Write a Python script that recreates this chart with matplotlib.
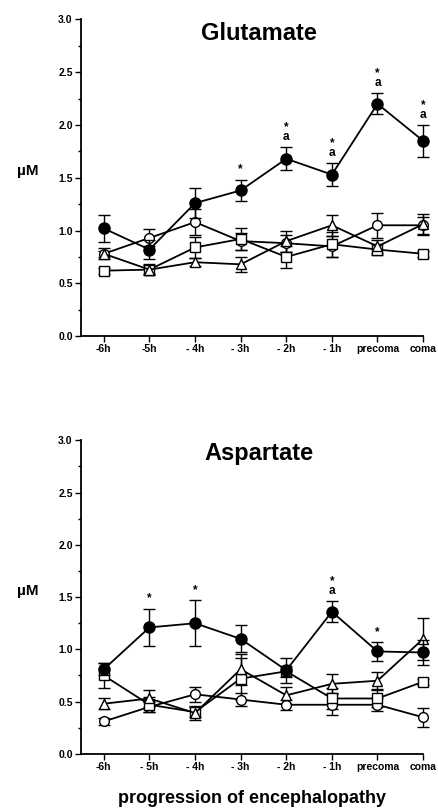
import matplotlib.pyplot as plt
from matplotlib.ticker import MultipleLocator

plt.rcParams['font.family'] = ['Liberation Sans', 'DejaVu Sans']
plt.rcParams['font.weight'] = 'bold'

stages_top = ['-6h', '-5h', '- 4h', '- 3h', '- 2h', '- 1h', 'precoma', 'coma']
stages_bot = ['-6h', '- 5h', '- 4h', '- 3h', '- 2h', '- 1h', 'precoma', 'coma']

# Glutamate (uM)
glu_filled = [1.02, 0.82, 1.26, 1.38, 1.68, 1.53, 2.20, 1.85]
glu_filled_err = [0.13, 0.09, 0.14, 0.10, 0.11, 0.11, 0.10, 0.15]
glu_circle = [0.78, 0.93, 1.08, 0.90, 0.88, 0.85, 1.05, 1.05]
glu_circle_err = [0.05, 0.08, 0.12, 0.08, 0.08, 0.10, 0.12, 0.08]
glu_square = [0.62, 0.63, 0.84, 0.92, 0.75, 0.87, 0.82, 0.78]
glu_square_err = [0.03, 0.05, 0.10, 0.10, 0.10, 0.12, 0.05, 0.03]
glu_tri = [0.78, 0.63, 0.70, 0.68, 0.90, 1.05, 0.85, 1.06]
glu_tri_err = [0.03, 0.04, 0.04, 0.07, 0.10, 0.10, 0.06, 0.10]
glu_marks = {3: '*', 4: '*\na', 5: '*\na', 6: '*\na', 7: '*\na'}

# Aspartate (uM)
asp_filled = [0.81, 1.21, 1.25, 1.10, 0.80, 1.36, 0.98, 0.97]
asp_filled_err = [0.06, 0.18, 0.22, 0.13, 0.12, 0.10, 0.09, 0.12]
asp_circle = [0.31, 0.45, 0.57, 0.52, 0.47, 0.47, 0.47, 0.35]
asp_circle_err = [0.03, 0.05, 0.07, 0.06, 0.05, 0.10, 0.06, 0.09]
asp_square = [0.75, 0.47, 0.40, 0.72, 0.79, 0.53, 0.53, 0.69]
asp_square_err = [0.12, 0.07, 0.05, 0.20, 0.05, 0.10, 0.08, 0.03]
asp_tri = [0.48, 0.53, 0.39, 0.81, 0.56, 0.67, 0.70, 1.10]
asp_tri_err = [0.05, 0.08, 0.07, 0.15, 0.08, 0.09, 0.08, 0.20]
asp_marks = {1: '*', 2: '*', 5: '*\na', 6: '*'}

fig = plt.figure(figsize=(4.38, 8.08), dpi=100)
ax_top = fig.add_axes([0.185, 0.584, 0.781, 0.392])
ax_bot = fig.add_axes([0.185, 0.067, 0.781, 0.388])


def draw_series(ax, x, y, err, marker, size, face):
    cont = ax.errorbar(x, y, yerr=err, marker=marker, markersize=size,
                       markerfacecolor=face, markeredgecolor='black',
                       markeredgewidth=1.0, color='black', ecolor='black',
                       elinewidth=1.0, capsize=4, capthick=1.0,
                       linewidth=1.3, zorder=4 if face == 'black' else 3)
    line, caps, bars = cont.lines
    for art in [line, *caps, *bars]:
        art.set_clip_on(False)


def draw_panel(ax, title, labels, filled, filled_err, circle, circle_err,
               square, square_err, tri, tri_err, marks):
    x = list(range(len(labels)))
    draw_series(ax, x, circle, circle_err, 'o', 7, 'white')
    draw_series(ax, x, square, square_err, 's', 6.5, 'white')
    draw_series(ax, x, tri, tri_err, '^', 7, 'white')
    draw_series(ax, x, filled, filled_err, 'o', 8, 'black')
    for i, txt in marks.items():
        ax.text(i, filled[i] + filled_err[i] + 0.04, txt, ha='center',
                va='bottom', fontsize=8.5, fontweight='bold',
                linespacing=0.75)

    ax.set_xlim(-0.5, 7)
    ax.set_ylim(0, 3.0)
    ax.set_xticks(x)
    ax.set_xticklabels(labels, fontsize=7.5, fontweight='bold')
    ax.yaxis.set_major_locator(MultipleLocator(0.5))
    ax.yaxis.set_minor_locator(MultipleLocator(0.25))
    ax.set_yticklabels(['%.1f' % v for v in ax.get_yticks()], fontsize=7.5,
                       fontweight='bold')
    ax.tick_params(axis='both', which='major', length=4, width=1.0, pad=2)
    ax.tick_params(axis='y', which='minor', length=2, width=1.0)
    for side in ('top', 'right'):
        ax.spines[side].set_visible(False)
    for side in ('left', 'bottom'):
        ax.spines[side].set_linewidth(1.3)
    ax.set_title(title, fontsize=17, fontweight='bold', x=0.52, y=0.91)
    ax.text(-0.155, 0.52, '\u00b5M', transform=ax.transAxes, fontsize=11,
            fontweight='bold', ha='center', va='center')


draw_panel(ax_top, 'Glutamate', stages_top, glu_filled, glu_filled_err,
           glu_circle, glu_circle_err, glu_square, glu_square_err,
           glu_tri, glu_tri_err, glu_marks)
draw_panel(ax_bot, 'Aspartate', stages_bot, asp_filled, asp_filled_err,
           asp_circle, asp_circle_err, asp_square, asp_square_err,
           asp_tri, asp_tri_err, asp_marks)

ax_bot.set_xlabel('progression of encephalopathy', fontsize=13,
                  fontweight='bold', labelpad=13)

fig.savefig('out.png', dpi=100)
